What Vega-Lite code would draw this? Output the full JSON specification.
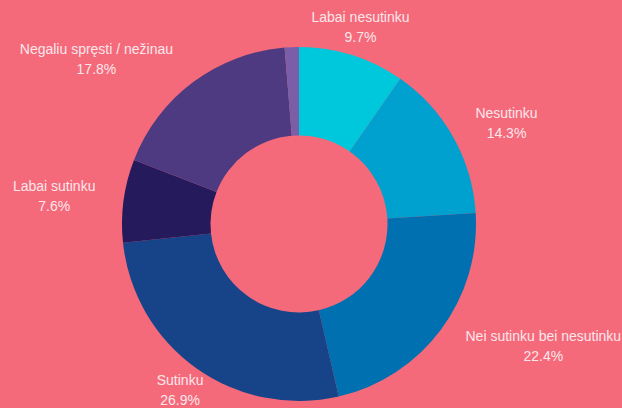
{
  "$schema": "https://vega.github.io/schema/vega-lite/v6.json",
  "width": 598,
  "height": 368,
  "padding": {"left": 0, "top": 40, "right": 24, "bottom": 0},
  "autosize": {"type": "none"},
  "background": "#f46a7b",
  "config": {"view": {"stroke": null}},
  "data": {
    "values": [
      {"cat": "Labai nesutinku", "pct": 9.7, "order": 1},
      {"cat": "Nesutinku", "pct": 14.3, "order": 2},
      {"cat": "Nei sutinku bei nesutinku", "pct": 22.4, "order": 3},
      {"cat": "Sutinku", "pct": 26.9, "order": 4},
      {"cat": "Labai sutinku", "pct": 7.6, "order": 5},
      {"cat": "Negaliu spręsti / nežinau", "pct": 17.8, "order": 6},
      {"cat": "Kita", "pct": 1.3, "order": 7}
    ]
  },
  "layer": [
    {
      "mark": {"type": "arc", "outerRadius": 177, "innerRadius": 88.5},
      "encoding": {
        "theta": {"field": "pct", "type": "quantitative", "stack": true},
        "order": {"field": "order", "type": "quantitative", "sort": "ascending"},
        "color": {
          "field": "cat",
          "type": "nominal",
          "legend": null,
          "scale": {
            "domain": ["Labai nesutinku", "Nesutinku", "Nei sutinku bei nesutinku", "Sutinku", "Labai sutinku", "Negaliu spręsti / nežinau", "Kita"],
            "range": ["#00c8dc", "#00a0cf", "#0070b0", "#174488", "#241a5c", "#4e3a80", "#7b5ea8"]
          }
        }
      }
    },
    {
      "transform": [
        {"window": [{"op": "sum", "field": "pct", "as": "cum"}], "sort": [{"field": "order", "order": "ascending"}], "frame": [null, 0]},
        {"calculate": "datum.cum - datum.pct / 2", "as": "mid"},
        {"calculate": "datum.cat + '\\n' + format(datum.pct, '.1f') + '%'", "as": "label"},
        {"filter": "datum.cat != 'Kita'"}
      ],
      "mark": {
        "type": "text",
        "radius": 205,
        "dy": -10,
        "font": "Liberation Sans",
        "fontSize": 14,
        "lineHeight": 20,
        "lineBreak": "\n",
        "color": "#fde6ea",
        "baseline": "middle",
        "align": "center",
        "dx": {"expr": "(datum.mid < 10 || (datum.mid > 50 && datum.mid < 70)) ? 0 : (datum.mid < 50 ? 1 : -1) * length(datum.cat) * 3.2"}
      },
      "encoding": {
        "theta": {"field": "mid", "type": "quantitative", "stack": null},
        "text": {"field": "label", "type": "nominal"}
      }
    }
  ]
}
